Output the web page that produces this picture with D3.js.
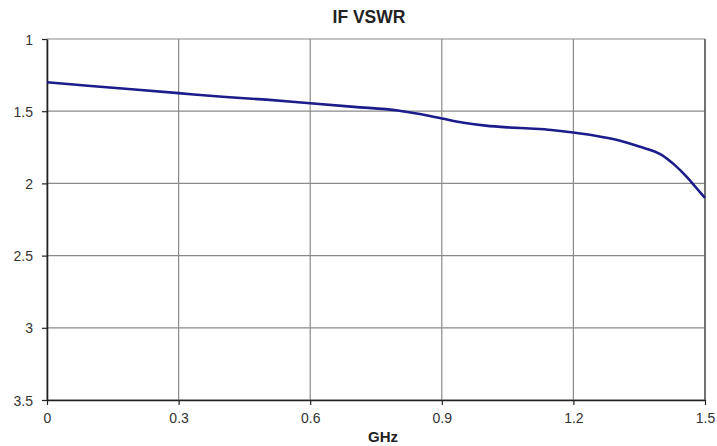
<!DOCTYPE html>
<html><head><meta charset="utf-8">
<script src="https://cdn.jsdelivr.net/npm/d3@7"></script>
<style>body{margin:0;background:#fff}svg{display:block}</style>
</head><body>
<script>
const freq = [0,0.1,0.2,0.3,0.4,0.5,0.6,0.7,0.8,0.85,0.9,0.95,1.0,1.05,1.1,1.15,1.2,1.25,1.3,1.35,1.4,1.43,1.46,1.48,1.5];
const vswr = [1.30,1.325,1.35,1.375,1.40,1.42,1.445,1.47,1.495,1.52,1.55,1.58,1.60,1.612,1.62,1.63,1.648,1.67,1.70,1.745,1.80,1.87,1.96,2.03,2.10];
const xTicks = [0,0.3,0.6,0.9,1.2,1.5];
const yTicks = [1,1.5,2,2.5,3,3.5];

const W=717,H=446, L=47, R=705, T=39, B=400;
const svg=d3.select("body").append("svg").attr("width",W).attr("height",H);
const x=d3.scaleLinear().domain([0,1.5]).range([L,R]);
const y=d3.scaleLinear().domain([1,3.5]).range([T,B]);
const font="Liberation Sans, Arial, sans-serif";

// grid
svg.append("g").selectAll("line").data(xTicks).join("line")
  .attr("x1",d=>x(d)).attr("x2",d=>x(d)).attr("y1",T).attr("y2",B)
  .attr("stroke","#8a8a8a").attr("stroke-width",1.2);
svg.append("g").selectAll("line").data(yTicks).join("line")
  .attr("x1",L).attr("x2",R).attr("y1",d=>y(d)).attr("y2",d=>y(d))
  .attr("stroke","#8a8a8a").attr("stroke-width",1.2);

// axes
const xa=svg.append("g").attr("transform",`translate(0,${B})`)
  .call(d3.axisBottom(x).tickValues(xTicks).tickSize(5).tickSizeOuter(0).tickFormat(d=>String(d)));
const ya=svg.append("g").attr("transform",`translate(${L},0)`)
  .call(d3.axisLeft(y).tickValues(yTicks).tickSize(5).tickSizeOuter(0).tickFormat(d=>String(d)));
[xa,ya].forEach(a=>{
  a.select(".domain").attr("stroke","#222").attr("stroke-width",1.6);
  a.selectAll(".tick line").attr("stroke","#222").attr("stroke-width",1.2);
  a.selectAll("text").attr("font-family",font).attr("font-size",14).attr("fill","#333");
});
xa.selectAll("text").attr("y",23).attr("dy",0);
ya.selectAll("text").attr("x",-14).attr("dy","0.36em");
svg.append("line").attr("x1",R).attr("x2",R).attr("y1",T).attr("y2",B).attr("stroke","#555").attr("stroke-width",1.4);

// line
const data=freq.map((f,i)=>[f,vswr[i]]);
svg.append("path").datum(data)
  .attr("d",d3.line().x(d=>x(d[0])).y(d=>y(d[1])).curve(d3.curveMonotoneX))
  .attr("fill","none").attr("stroke","#1c1c8a").attr("stroke-width",2.6);

// titles
svg.append("text").attr("x",369).attr("y",22.5).attr("text-anchor","middle")
  .attr("font-family",font).attr("font-weight","bold").attr("font-size",17.5).attr("fill","#222").text("IF VSWR");
svg.append("text").attr("x",383).attr("y",442).attr("text-anchor","middle")
  .attr("font-family",font).attr("font-weight","bold").attr("font-size",15).attr("fill","#222").text("GHz");
</script>
</body></html>
